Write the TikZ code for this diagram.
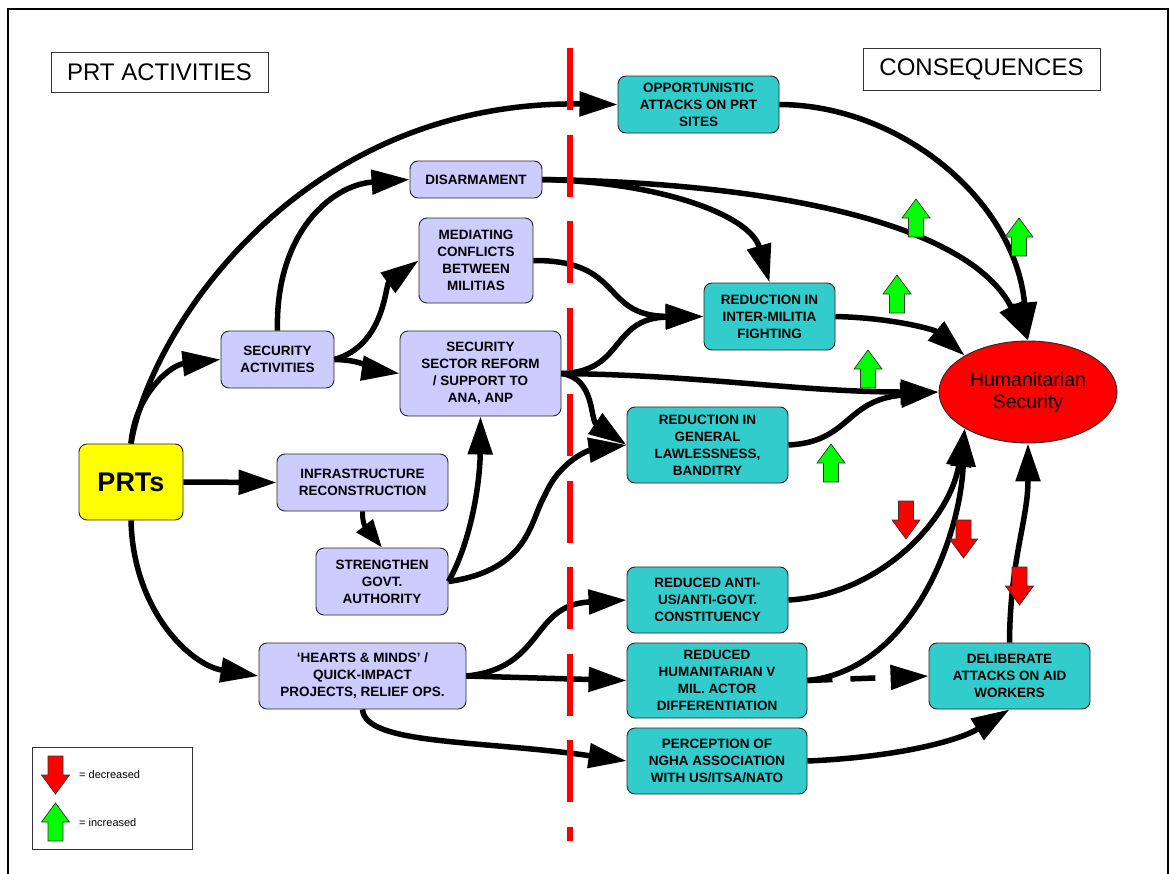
\documentclass[tikz,border=0pt]{standalone}
\usepackage{fontspec}
\setmainfont{Liberation Sans}
\usetikzlibrary{arrows.meta,shapes.geometric}
\definecolor{lav}{RGB}{204,204,255}
\definecolor{cyn}{RGB}{51,204,204}
\definecolor{grn}{RGB}{0,255,0}
\definecolor{rd}{RGB}{255,0,0}
\definecolor{yel}{RGB}{255,255,0}
\tikzset{
  box/.style={draw=black!85, line width=0.9pt, rounded corners=8pt, align=center,
    inner sep=0pt, font=\fontsize{13.5}{17}\selectfont\bfseries},
  actbox/.style={box, fill=lav},
  conbox/.style={box, fill=cyn},
  conn/.style={line width=5.5pt, -{Triangle[length=38pt,width=24pt]}},
  smallconn/.style={line width=5pt, -{Triangle[length=28pt,width=20pt]}},
  titlebox/.style={draw=black!80, line width=0.9pt, inner sep=0pt, font=\fontsize{24}{28}\selectfont},
  blk/.style={draw=black!80, line width=0.7pt},
  uparr/.pic={\draw[blk, fill=grn] (0,0) -- (14,19) -- (7.5,19) -- (7.5,38) -- (-7.5,38) -- (-7.5,19) -- (-14,19) -- cycle;},
  downarr/.pic={\draw[blk, fill=rd] (-7.5,0) -- (7.5,0) -- (7.5,19) -- (14,19) -- (0,38) -- (-14,19) -- (-7.5,19) -- cycle;}
}
\begin{document}
\begin{tikzpicture}[x=1pt,y=-1pt]
\useasboundingbox (0,0) rectangle (1169,873);
\fill[white] (0,0) rectangle (1169,873);
\draw[line width=2pt] (8,890) -- (8,9) -- (1168,9) -- (1168,890);

% titles
\node[titlebox, minimum width=217pt, minimum height=40pt] (tact) at (159.5,72) {PRT ACTIVITIES};
\node[titlebox, minimum width=237pt, minimum height=42pt] (tcon) at (981.5,69) {CONSEQUENCES};

% activity nodes
\node[box, fill=yel, minimum width=104pt, minimum height=76pt, font=\fontsize{27}{30}\selectfont\bfseries] (prt) at (131,482) {PRTs};
\node[actbox, minimum width=113pt, minimum height=57pt] (sa) at (277.5,359.5) {SECURITY\\ACTIVITIES};
\node[actbox, minimum width=132pt, minimum height=37pt] (dis) at (476,179.5) {DISARMAMENT};
\node[actbox, minimum width=114pt, minimum height=85pt] (med) at (476,260.5) {MEDIATING\\CONFLICTS\\BETWEEN\\MILITIAS};
\node[actbox, minimum width=161pt, minimum height=85pt] (ssr) at (480.5,373.5) {SECURITY\\SECTOR REFORM\\/ SUPPORT TO\\ANA, ANP};
\node[actbox, minimum width=171pt, minimum height=57pt] (infra) at (362.5,482.5) {INFRASTRUCTURE\\RECONSTRUCTION};
\node[actbox, minimum width=132pt, minimum height=67pt] (sga) at (382,581.5) {STRENGTHEN\\GOVT.\\AUTHORITY};
\node[actbox, minimum width=207pt, minimum height=66pt] (hm) at (362.5,676) {‘HEARTS \& MINDS’ /\\QUICK-IMPACT\\PROJECTS, RELIEF OPS.};

% consequence nodes
\node[conbox, minimum width=161pt, minimum height=57pt] (opp) at (698.5,104.5) {OPPORTUNISTIC\\ATTACKS ON PRT\\SITES};
\node[conbox, minimum width=131pt, minimum height=67pt] (rim) at (769.5,316.5) {REDUCTION IN\\INTER-MILITIA\\FIGHTING};
\node[conbox, minimum width=161pt, minimum height=76pt] (rgl) at (707.5,445) {REDUCTION IN\\GENERAL\\LAWLESSNESS,\\BANDITRY};
\node[conbox, minimum width=161pt, minimum height=66pt] (rau) at (707.5,600) {REDUCED ANTI-\\US/ANTI-GOVT.\\CONSTITUENCY};
\node[conbox, minimum width=180pt, minimum height=75pt] (rhd) at (717,680.5) {REDUCED\\HUMANITARIAN V\\MIL. ACTOR\\DIFFERENTIATION};
\node[conbox, minimum width=180pt, minimum height=66pt] (png) at (717,761) {PERCEPTION OF\\NGHA ASSOCIATION\\WITH US/ITSA/NATO};
\node[conbox, minimum width=161pt, minimum height=66pt] (daw) at (1009.5,676) {DELIBERATE\\ATTACKS ON AID\\WORKERS};
\node[ellipse, draw=black!85, line width=0.9pt, fill=rd, minimum width=178pt, minimum height=102pt, inner sep=0pt, align=center,
  font=\fontsize{19.5}{22}\selectfont] (hs) at (1028,392) {Humanitarian\\Security};

% connectors
\draw[conn] (prt.north) .. controls (150,330) and (300,100) .. (opp.west);
\draw[conn] (prt.north) .. controls (135,395) and (170,365) .. (sa.west);
\draw[conn] (prt.south) .. controls (133,610) and (190,665) .. (hm.west);
\draw[conn] (prt.east) -- (infra.west);
\draw[conn] (sa.north) .. controls (275,235) and (330,185) .. (dis.west);
\draw[conn] (sa.east) .. controls (385,345) and (385,285) .. (med.west);
\draw[conn] (sa.east) .. controls (365,360) and (375,370) .. (ssr.west);
\draw[smallconn] (infra.south) .. controls (362,526) and (368,530) .. (sga.north);
\draw[conn] (sga.east) .. controls (472,540) and (480,480) .. (ssr.south);
\draw[conn] (sga.east) .. controls (530,570) and (530,520) .. (545,495) .. controls (560,460) and (590,450) .. (rgl.west);
\draw[conn] (ssr.east) .. controls (625,372) and (610,318) .. (rim.west);
\draw[conn] (med.east) .. controls (625,260) and (600,316) .. (rim.west);
\draw[conn] (ssr.east) .. controls (700,375) and (800,392) .. (hs.west);
\draw[conn] (ssr.east) .. controls (595,378) and (590,420) .. (rgl.west);
\draw[conn] (dis.east) .. controls (660,182) and (750,215) .. (rim.north);
\draw[conn] (dis.east) .. controls (780,183) and (970,225) .. (hs.north);
\draw[conn] (opp.east) .. controls (900,105) and (1015,200) .. (hs.north);
\draw[conn] (rim.east) .. controls (895,318) and (935,330) .. (hs.north west);
\draw[conn] (rgl.east) .. controls (850,442) and (845,400) .. (hs.west);
\draw[conn] (rau.east) .. controls (880,595) and (950,520) .. (hs.south west);
\draw[conn] (rhd.east) .. controls (910,670) and (960,540) .. (hs.south west);
\draw[conn, dash pattern=on 25pt off 18pt] (rhd.east) -- (daw.west);
\draw[conn] (daw.north) .. controls (1010,560) and (1028,520) .. (hs.south);
\draw[conn] (hm.east) .. controls (545,668) and (530,605) .. (rau.west);
\draw[conn] (hm.east) -- (rhd.west);
\draw[conn] (hm.south) .. controls (365,745) and (480,740) .. (png.west);
\draw[conn] (png.east) .. controls (900,757) and (960,740) .. (daw.south);

% dividing line
\coordinate (dtop) at (570,48);
\coordinate (dbot) at (570,841);
\draw[rd, line width=6pt, dash pattern=on 62pt off 24.5pt] (dtop) -- (dbot);

% increase / decrease markers
\pic at (916,199) {uparr};
\pic at (1019,218) {uparr};
\pic at (897,275) {uparr};
\pic at (868,350) {uparr};
\pic at (831,444) {uparr};
\pic at (906,501) {downarr};
\pic at (963.5,520) {downarr};
\pic at (1019.5,567) {downarr};

% legend
\node[draw=black!80, line width=0.9pt, minimum width=160pt, minimum height=102pt, inner sep=0pt] (leg) at (112,798) {};
\pic at (55.5,756) {downarr};
\pic at (55.5,803) {uparr};
\node[anchor=west, inner sep=0pt, font=\fontsize{11}{13}\selectfont] (ldec) at (79,775) {= decreased};
\node[anchor=west, inner sep=0pt, font=\fontsize{11}{13}\selectfont] (linc) at (79,823) {= increased};
\end{tikzpicture}
\end{document}
